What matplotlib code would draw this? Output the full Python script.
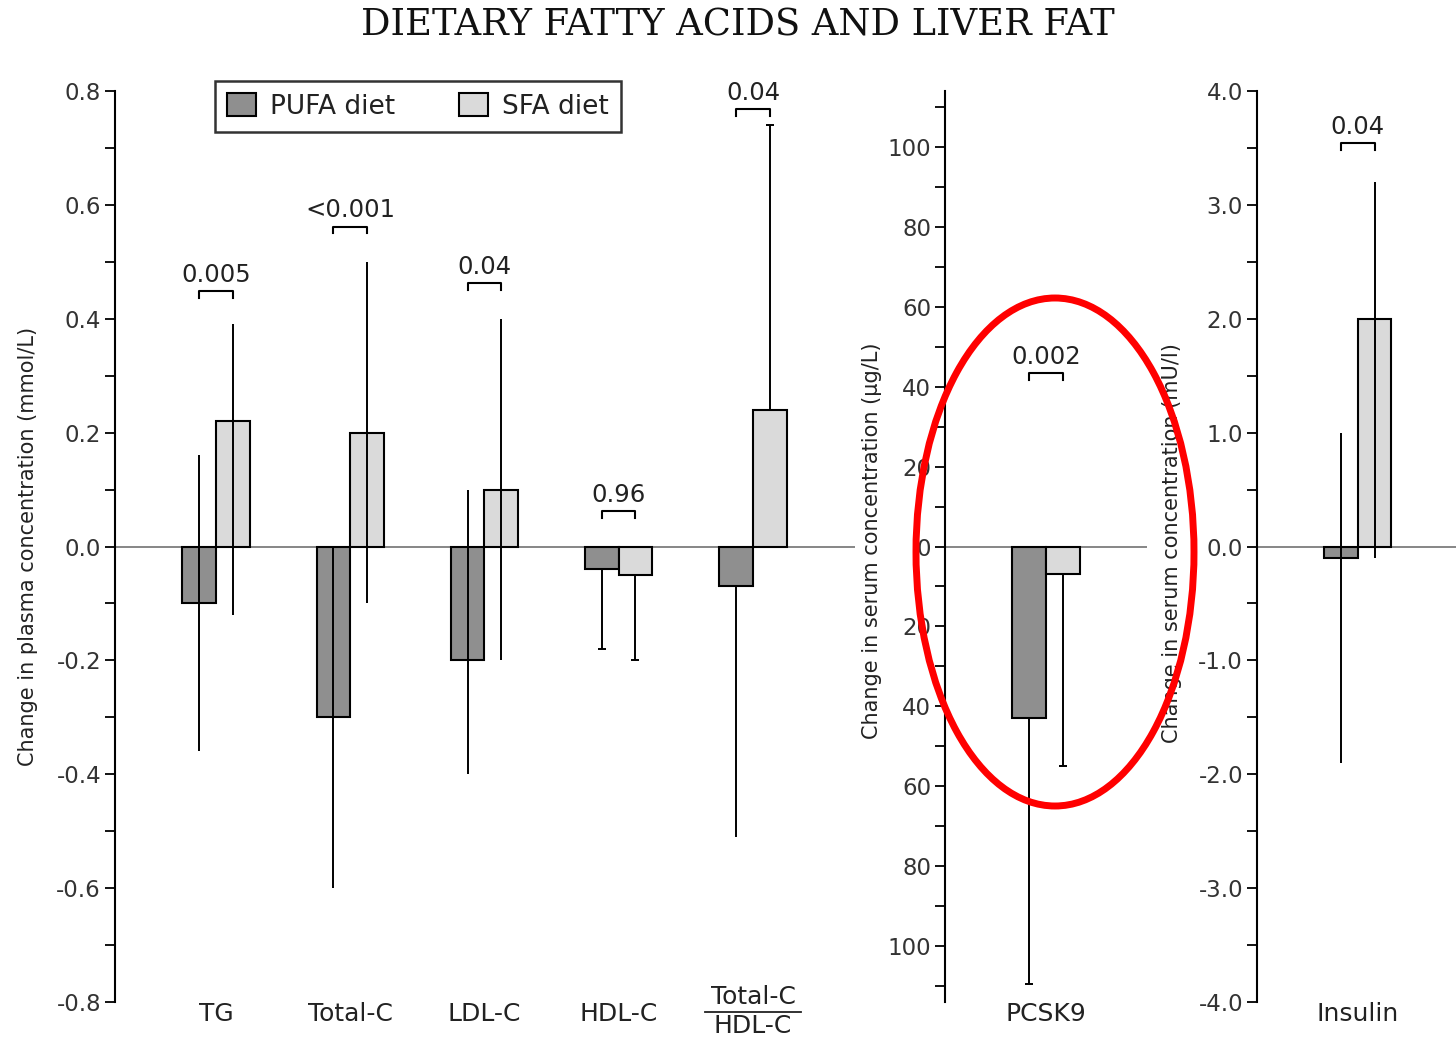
import numpy as np
import matplotlib.pyplot as plt
from matplotlib.patches import Patch, Ellipse

plt.rcParams['font.family'] = ['DejaVu Sans']
plt.rcParams['axes.unicode_minus'] = False

# plasma lipids (mmol/L)
lipids = ['TG', 'Total-C', 'LDL-C', 'HDL-C', 'Total-C/HDL-C']
pufa = [-0.10, -0.30, -0.20, -0.04, -0.07]
pufa_lo = [-0.36, -0.60, -0.40, -0.18, -0.51]
pufa_hi = [0.16, 0.00, 0.10, -0.04, -0.07]
sfa = [0.22, 0.20, 0.10, -0.05, 0.24]
sfa_lo = [-0.12, -0.10, -0.20, -0.20, 0.24]
sfa_hi = [0.39, 0.50, 0.40, -0.05, 0.74]
lipid_p = ['0.005', '<0.001', '0.04', '0.96', '0.04']
lipid_p_y = [0.448, 0.562, 0.462, 0.062, 0.768]

# PCSK9 (ug/L)
pcsk9_pufa, pcsk9_pufa_lo, pcsk9_pufa_hi = -43, -109.5, -43
pcsk9_sfa, pcsk9_sfa_lo, pcsk9_sfa_hi = -7, -55, -7
pcsk9_p, pcsk9_p_y = '0.002', 43.4

# insulin (mU/l)
ins_pufa, ins_pufa_lo, ins_pufa_hi = -0.1, -1.9, 1.0
ins_sfa, ins_sfa_lo, ins_sfa_hi = 2.0, -0.1, 3.2
ins_p, ins_p_y = '0.04', 3.54

dark = '#8f8f8f'
light = '#dadada'
w = 0.25
txt = '#222222'

fig = plt.figure(figsize=(14.56, 10.38), dpi=100)
H = 1038.
W = 1456.
bot = 36 / H
hgt = 911 / H
ax1 = fig.add_axes([115 / W, bot, 740 / W, hgt])
ax2 = fig.add_axes([945 / W, bot, 202 / W, hgt])
ax3 = fig.add_axes([1257 / W, bot, 199 / W, hgt])


def fmt1(v):
    return '%.1f' % (0.0 if abs(v) < 1e-9 else v)


def style(ax, ylim, major, minor):
    ax.set_ylim(*ylim)
    for s in ['top', 'right', 'bottom']:
        ax.spines[s].set_visible(False)
    ax.spines['left'].set_linewidth(1.5)
    ax.set_yticks(major)
    ax.set_yticks(minor, minor=True)
    ax.tick_params(axis='y', which='both', direction='out', length=7,
                   width=1.3, pad=3, labelsize=16.5, labelcolor='#333333')
    ax.tick_params(axis='x', length=0, pad=0, labelsize=18, labelcolor=txt)
    ax.axhline(0, color='#666666', lw=1.1, zorder=1)


def pair(ax, x, a, alo, ahi, b, blo, bhi, capa=0, capb=0):
    x = np.asarray(x, dtype=float)
    a, alo, ahi = map(np.asarray, (a, alo, ahi))
    b, blo, bhi = map(np.asarray, (b, blo, bhi))
    ax.bar(x - w / 2, a, w, color=dark, edgecolor='black', lw=1.5, zorder=2)
    ax.bar(x + w / 2, b, w, color=light, edgecolor='black', lw=1.5, zorder=2)
    for xs, v, lo, hi, cap in [(x - w / 2, a, alo, ahi, capa),
                               (x + w / 2, b, blo, bhi, capb)]:
        for i in range(len(xs)):
            c = cap[i] if np.ndim(cap) else cap
            ax.errorbar(xs[i], v[i], yerr=[[v[i] - lo[i]], [hi[i] - v[i]]],
                        fmt='none', ecolor='black', elinewidth=1.4,
                        capsize=c, capthick=1.4, zorder=3)


def bracket(ax, x, y, label):
    span = ax.get_ylim()[1] - ax.get_ylim()[0]
    d = span * 0.0075
    ax.plot([x - w / 2, x - w / 2, x + w / 2, x + w / 2], [y - d, y, y, y - d],
            color='black', lw=1.5, zorder=3)
    ax.annotate(label, (x, y), xytext=(0, 3), textcoords='offset points',
                ha='center', va='bottom', fontsize=17.5, color=txt)


# left panel: plasma lipids
xs = np.arange(len(lipids))
lip_ticks = np.arange(-0.8, 0.81, 0.2)
style(ax1, (-0.8, 0.8), lip_ticks, np.arange(-0.7, 0.71, 0.2))
ax1.set_yticklabels([fmt1(v) for v in lip_ticks])
ax1.set_xlim(-0.752, 4.76)
pair(ax1, xs, pufa, pufa_lo, pufa_hi, sfa, sfa_lo, sfa_hi,
     capa=[0, 0, 0, 3, 0], capb=[0, 0, 0, 3, 3])
for i in range(len(lipids)):
    bracket(ax1, xs[i], lipid_p_y[i], lipid_p[i])
ax1.set_xticks(xs)
ax1.set_xticklabels(lipids[:-1] + [''])
num, den = lipids[-1].split('/')
tr = ax1.get_xaxis_transform()
ax1.text(xs[-1], 0.005, num, transform=tr, ha='center', va='center',
         fontsize=18, color=txt)
ax1.text(xs[-1], -0.026, den, transform=tr, ha='center', va='center',
         fontsize=18, color=txt)
ax1.plot([xs[-1] - 0.36, xs[-1] + 0.36], [-0.0105, -0.0105], transform=tr,
         color=txt, lw=1.3, clip_on=False)

# middle panel: PCSK9
pcsk_ticks = np.arange(-100, 101, 20)
style(ax2, (-114, 114), pcsk_ticks, np.arange(-110, 111, 20))
ax2.set_yticklabels([str(abs(v)) for v in pcsk_ticks])
ax2.set_xlim(-0.75, 0.75)
pair(ax2, [0], [pcsk9_pufa], [pcsk9_pufa_lo], [pcsk9_pufa_hi],
     [pcsk9_sfa], [pcsk9_sfa_lo], [pcsk9_sfa_hi], capa=3, capb=3)
bracket(ax2, 0, pcsk9_p_y, pcsk9_p)
ax2.set_xticks([0])
ax2.set_xticklabels(['PCSK9'])

# right panel: insulin
ins_ticks = np.arange(-4, 4.1, 1.0)
style(ax3, (-4, 4), ins_ticks, np.arange(-3.5, 3.6, 1.0))
ax3.set_yticklabels([fmt1(v) for v in ins_ticks])
ax3.set_xlim(-0.75, 0.73)
pair(ax3, [0], [ins_pufa], [ins_pufa_lo], [ins_pufa_hi],
     [ins_sfa], [ins_sfa_lo], [ins_sfa_hi])
bracket(ax3, 0, ins_p_y, ins_p)
ax3.set_xticks([0])
ax3.set_xticklabels(['Insulin'])

# axis titles
fig.text(28 / W, 1 - 546 / H, 'Change in plasma concentration (mmol/L)',
         rotation=90, ha='center', va='center', fontsize=15, color=txt)
fig.text(872 / W, 1 - 541 / H, 'Change in serum concentration (\u03bcg/L)',
         rotation=90, ha='center', va='center', fontsize=15, color=txt)
fig.text(1172 / W, 1 - 543 / H, 'Change in serum concentration (mU/l)',
         rotation=90, ha='center', va='center', fontsize=15, color=txt)

fig.text(738 / W, 1 - 25 / H, 'DIETARY FATTY ACIDS AND LIVER FAT',
         family='DejaVu Serif', fontsize=26.5, ha='center', va='center',
         color='#111111')

handles = [Patch(facecolor=dark, edgecolor='black', lw=1.5, label='PUFA diet'),
           Patch(facecolor=light, edgecolor='black', lw=1.5, label='SFA diet')]
leg = fig.legend(handles=handles, loc='upper left',
                 bbox_to_anchor=(215 / W, 1 - 81 / H), ncol=2, fontsize=19,
                 frameon=True, fancybox=False, edgecolor='black',
                 handlelength=1.1, handleheight=1.0, handletextpad=0.55,
                 columnspacing=2.4, borderpad=0.45, borderaxespad=0)
leg.get_frame().set_linewidth(1.8)
for t in leg.get_texts():
    t.set_color(txt)

fig.add_artist(Ellipse((1055 / W, 1 - 552 / H), 278 / W, 508 / H,
                       transform=fig.transFigure, fill=False,
                       edgecolor='#ff0000', lw=5, zorder=10))

fig.savefig('out.png', dpi=100)
